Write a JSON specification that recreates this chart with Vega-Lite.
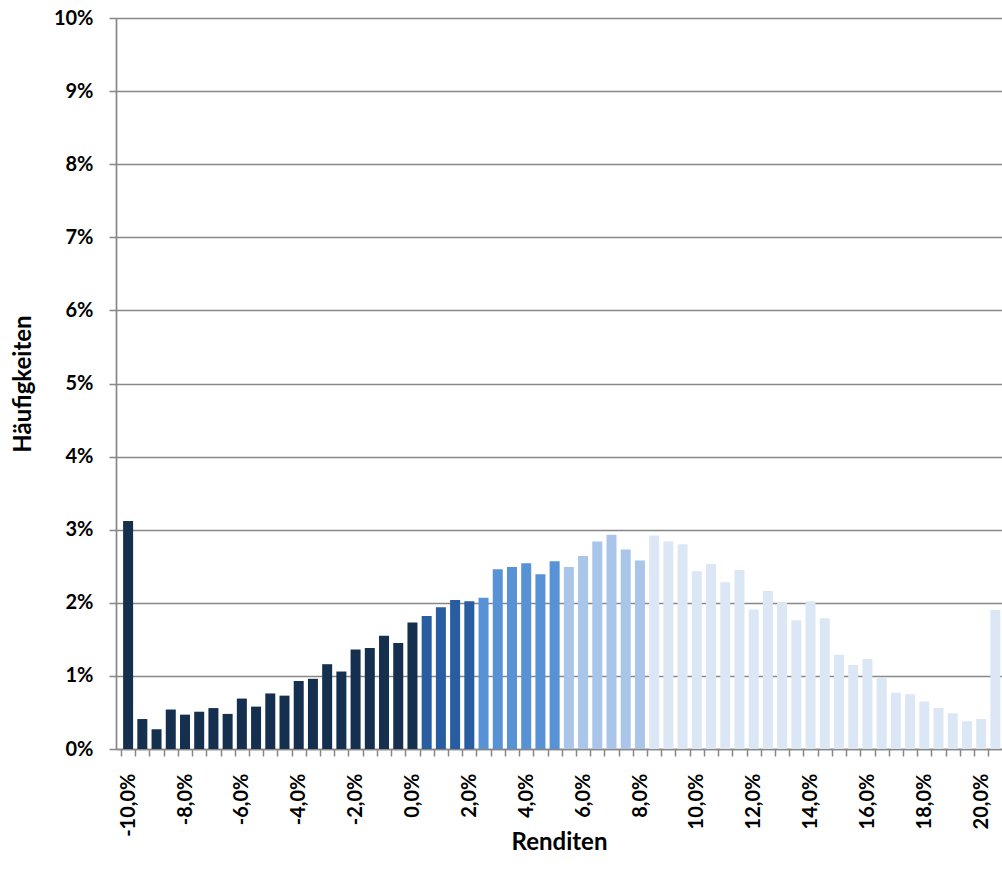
{
  "$schema": "https://vega.github.io/schema/vega-lite/v6.json",
  "autosize": {"type": "none"},
  "padding": {"left": 116, "top": 18, "right": 0, "bottom": 133},
  "width": 886,
  "height": 731,
  "background": "white",
  "config": {
    "view": {"stroke": null},
    "font": "Lato",
    "axis": {
      "labelFont": "Lato",
      "labelFontWeight": "bold",
      "labelFontSize": 20,
      "labelColor": "#000000",
      "titleFont": "Lato",
      "titleFontWeight": "bold",
      "titleFontSize": 24,
      "titleColor": "#000000",
      "domainColor": "#878787",
      "domainWidth": 1.7,
      "tickColor": "#878787",
      "tickWidth": 1.5,
      "tickSize": 7,
      "gridColor": "#878787",
      "gridWidth": 1.7,
      "gridOpacity": 1
    }
  },
  "data": {
    "values": [
      {"rendite": -10.0, "haeufigkeit": 3.12, "gruppe": "A"},
      {"rendite": -9.5, "haeufigkeit": 0.41, "gruppe": "A"},
      {"rendite": -9.0, "haeufigkeit": 0.27, "gruppe": "A"},
      {"rendite": -8.5, "haeufigkeit": 0.54, "gruppe": "A"},
      {"rendite": -8.0, "haeufigkeit": 0.47, "gruppe": "A"},
      {"rendite": -7.5, "haeufigkeit": 0.51, "gruppe": "A"},
      {"rendite": -7.0, "haeufigkeit": 0.56, "gruppe": "A"},
      {"rendite": -6.5, "haeufigkeit": 0.48, "gruppe": "A"},
      {"rendite": -6.0, "haeufigkeit": 0.69, "gruppe": "A"},
      {"rendite": -5.5, "haeufigkeit": 0.58, "gruppe": "A"},
      {"rendite": -5.0, "haeufigkeit": 0.76, "gruppe": "A"},
      {"rendite": -4.5, "haeufigkeit": 0.73, "gruppe": "A"},
      {"rendite": -4.0, "haeufigkeit": 0.93, "gruppe": "A"},
      {"rendite": -3.5, "haeufigkeit": 0.96, "gruppe": "A"},
      {"rendite": -3.0, "haeufigkeit": 1.16, "gruppe": "A"},
      {"rendite": -2.5, "haeufigkeit": 1.06, "gruppe": "A"},
      {"rendite": -2.0, "haeufigkeit": 1.36, "gruppe": "A"},
      {"rendite": -1.5, "haeufigkeit": 1.38, "gruppe": "A"},
      {"rendite": -1.0, "haeufigkeit": 1.55, "gruppe": "A"},
      {"rendite": -0.5, "haeufigkeit": 1.45, "gruppe": "A"},
      {"rendite": 0.0, "haeufigkeit": 1.73, "gruppe": "A"},
      {"rendite": 0.5, "haeufigkeit": 1.82, "gruppe": "B"},
      {"rendite": 1.0, "haeufigkeit": 1.94, "gruppe": "B"},
      {"rendite": 1.5, "haeufigkeit": 2.04, "gruppe": "B"},
      {"rendite": 2.0, "haeufigkeit": 2.02, "gruppe": "B"},
      {"rendite": 2.5, "haeufigkeit": 2.07, "gruppe": "C"},
      {"rendite": 3.0, "haeufigkeit": 2.46, "gruppe": "C"},
      {"rendite": 3.5, "haeufigkeit": 2.49, "gruppe": "C"},
      {"rendite": 4.0, "haeufigkeit": 2.54, "gruppe": "C"},
      {"rendite": 4.5, "haeufigkeit": 2.39, "gruppe": "C"},
      {"rendite": 5.0, "haeufigkeit": 2.57, "gruppe": "C"},
      {"rendite": 5.5, "haeufigkeit": 2.49, "gruppe": "D"},
      {"rendite": 6.0, "haeufigkeit": 2.64, "gruppe": "D"},
      {"rendite": 6.5, "haeufigkeit": 2.84, "gruppe": "D"},
      {"rendite": 7.0, "haeufigkeit": 2.93, "gruppe": "D"},
      {"rendite": 7.5, "haeufigkeit": 2.73, "gruppe": "D"},
      {"rendite": 8.0, "haeufigkeit": 2.58, "gruppe": "D"},
      {"rendite": 8.5, "haeufigkeit": 2.92, "gruppe": "E"},
      {"rendite": 9.0, "haeufigkeit": 2.84, "gruppe": "E"},
      {"rendite": 9.5, "haeufigkeit": 2.80, "gruppe": "E"},
      {"rendite": 10.0, "haeufigkeit": 2.43, "gruppe": "E"},
      {"rendite": 10.5, "haeufigkeit": 2.53, "gruppe": "E"},
      {"rendite": 11.0, "haeufigkeit": 2.28, "gruppe": "E"},
      {"rendite": 11.5, "haeufigkeit": 2.45, "gruppe": "E"},
      {"rendite": 12.0, "haeufigkeit": 1.91, "gruppe": "E"},
      {"rendite": 12.5, "haeufigkeit": 2.16, "gruppe": "E"},
      {"rendite": 13.0, "haeufigkeit": 2.00, "gruppe": "E"},
      {"rendite": 13.5, "haeufigkeit": 1.76, "gruppe": "E"},
      {"rendite": 14.0, "haeufigkeit": 2.02, "gruppe": "E"},
      {"rendite": 14.5, "haeufigkeit": 1.79, "gruppe": "E"},
      {"rendite": 15.0, "haeufigkeit": 1.29, "gruppe": "E"},
      {"rendite": 15.5, "haeufigkeit": 1.15, "gruppe": "E"},
      {"rendite": 16.0, "haeufigkeit": 1.23, "gruppe": "E"},
      {"rendite": 16.5, "haeufigkeit": 0.98, "gruppe": "E"},
      {"rendite": 17.0, "haeufigkeit": 0.77, "gruppe": "E"},
      {"rendite": 17.5, "haeufigkeit": 0.75, "gruppe": "E"},
      {"rendite": 18.0, "haeufigkeit": 0.65, "gruppe": "E"},
      {"rendite": 18.5, "haeufigkeit": 0.56, "gruppe": "E"},
      {"rendite": 19.0, "haeufigkeit": 0.49, "gruppe": "E"},
      {"rendite": 19.5, "haeufigkeit": 0.38, "gruppe": "E"},
      {"rendite": 20.0, "haeufigkeit": 0.41, "gruppe": "E"},
      {"rendite": 20.5, "haeufigkeit": 1.90, "gruppe": "E"}
    ]
  },
  "mark": {"type": "bar", "width": 10, "clip": true},
  "encoding": {
    "x": {
      "field": "rendite",
      "type": "quantitative",
      "scale": {"domain": [-10.25, 20.557], "nice": false, "zero": false},
      "axis": {
        "title": "Renditen",
        "titleY": 93,
        "titleBaseline": "middle",
        "grid": false,
        "values": [-10.25, -9.75, -9.25, -8.75, -8.25, -7.75, -7.25, -6.75, -6.25, -5.75, -5.25, -4.75, -4.25, -3.75, -3.25, -2.75, -2.25, -1.75, -1.25, -0.75, -0.25, 0.25, 0.75, 1.25, 1.75, 2.25, 2.75, 3.25, 3.75, 4.25, 4.75, 5.25, 5.75, 6.25, 6.75, 7.25, 7.75, 8.25, 8.75, 9.25, 9.75, 10.25, 10.75, 11.25, 11.75, 12.25, 12.75, 13.25, 13.75, 14.25, 14.75, 15.25, 15.75, 16.25, 16.75, 17.25, 17.75, 18.25, 18.75, 19.25, 19.75, 20.25],
        "labelExpr": "abs((datum.value + 0.25) % 2) < 0.001 ? replace(replace(format(datum.value + 0.25, '.1f'), '.', ','), '\u2212', '-') + '%' : ''",
        "labelAngle": -90,
        "labelAlign": "right",
        "labelBaseline": "middle",
        "labelOffset": 7.19,
        "labelPadding": 17,
        "labelOverlap": false,
        "labelFlush": false,
        "labelBound": false
      }
    },
    "y": {
      "field": "haeufigkeit",
      "type": "quantitative",
      "scale": {"domain": [0, 10], "nice": false},
      "axis": {
        "title": "Häufigkeiten",
        "titleX": -93,
        "titleBaseline": "middle",
        "values": [0, 1, 2, 3, 4, 5, 6, 7, 8, 9, 10],
        "labelExpr": "datum.value + '%'",
        "labelPadding": 16,
        "grid": true
      }
    },
    "color": {
      "field": "gruppe",
      "type": "nominal",
      "scale": {"domain": ["A", "B", "C", "D", "E"], "range": ["#15304F", "#285DA1", "#5892D6", "#A9C5EA", "#DCE7F5"]},
      "legend": null
    }
  }
}
